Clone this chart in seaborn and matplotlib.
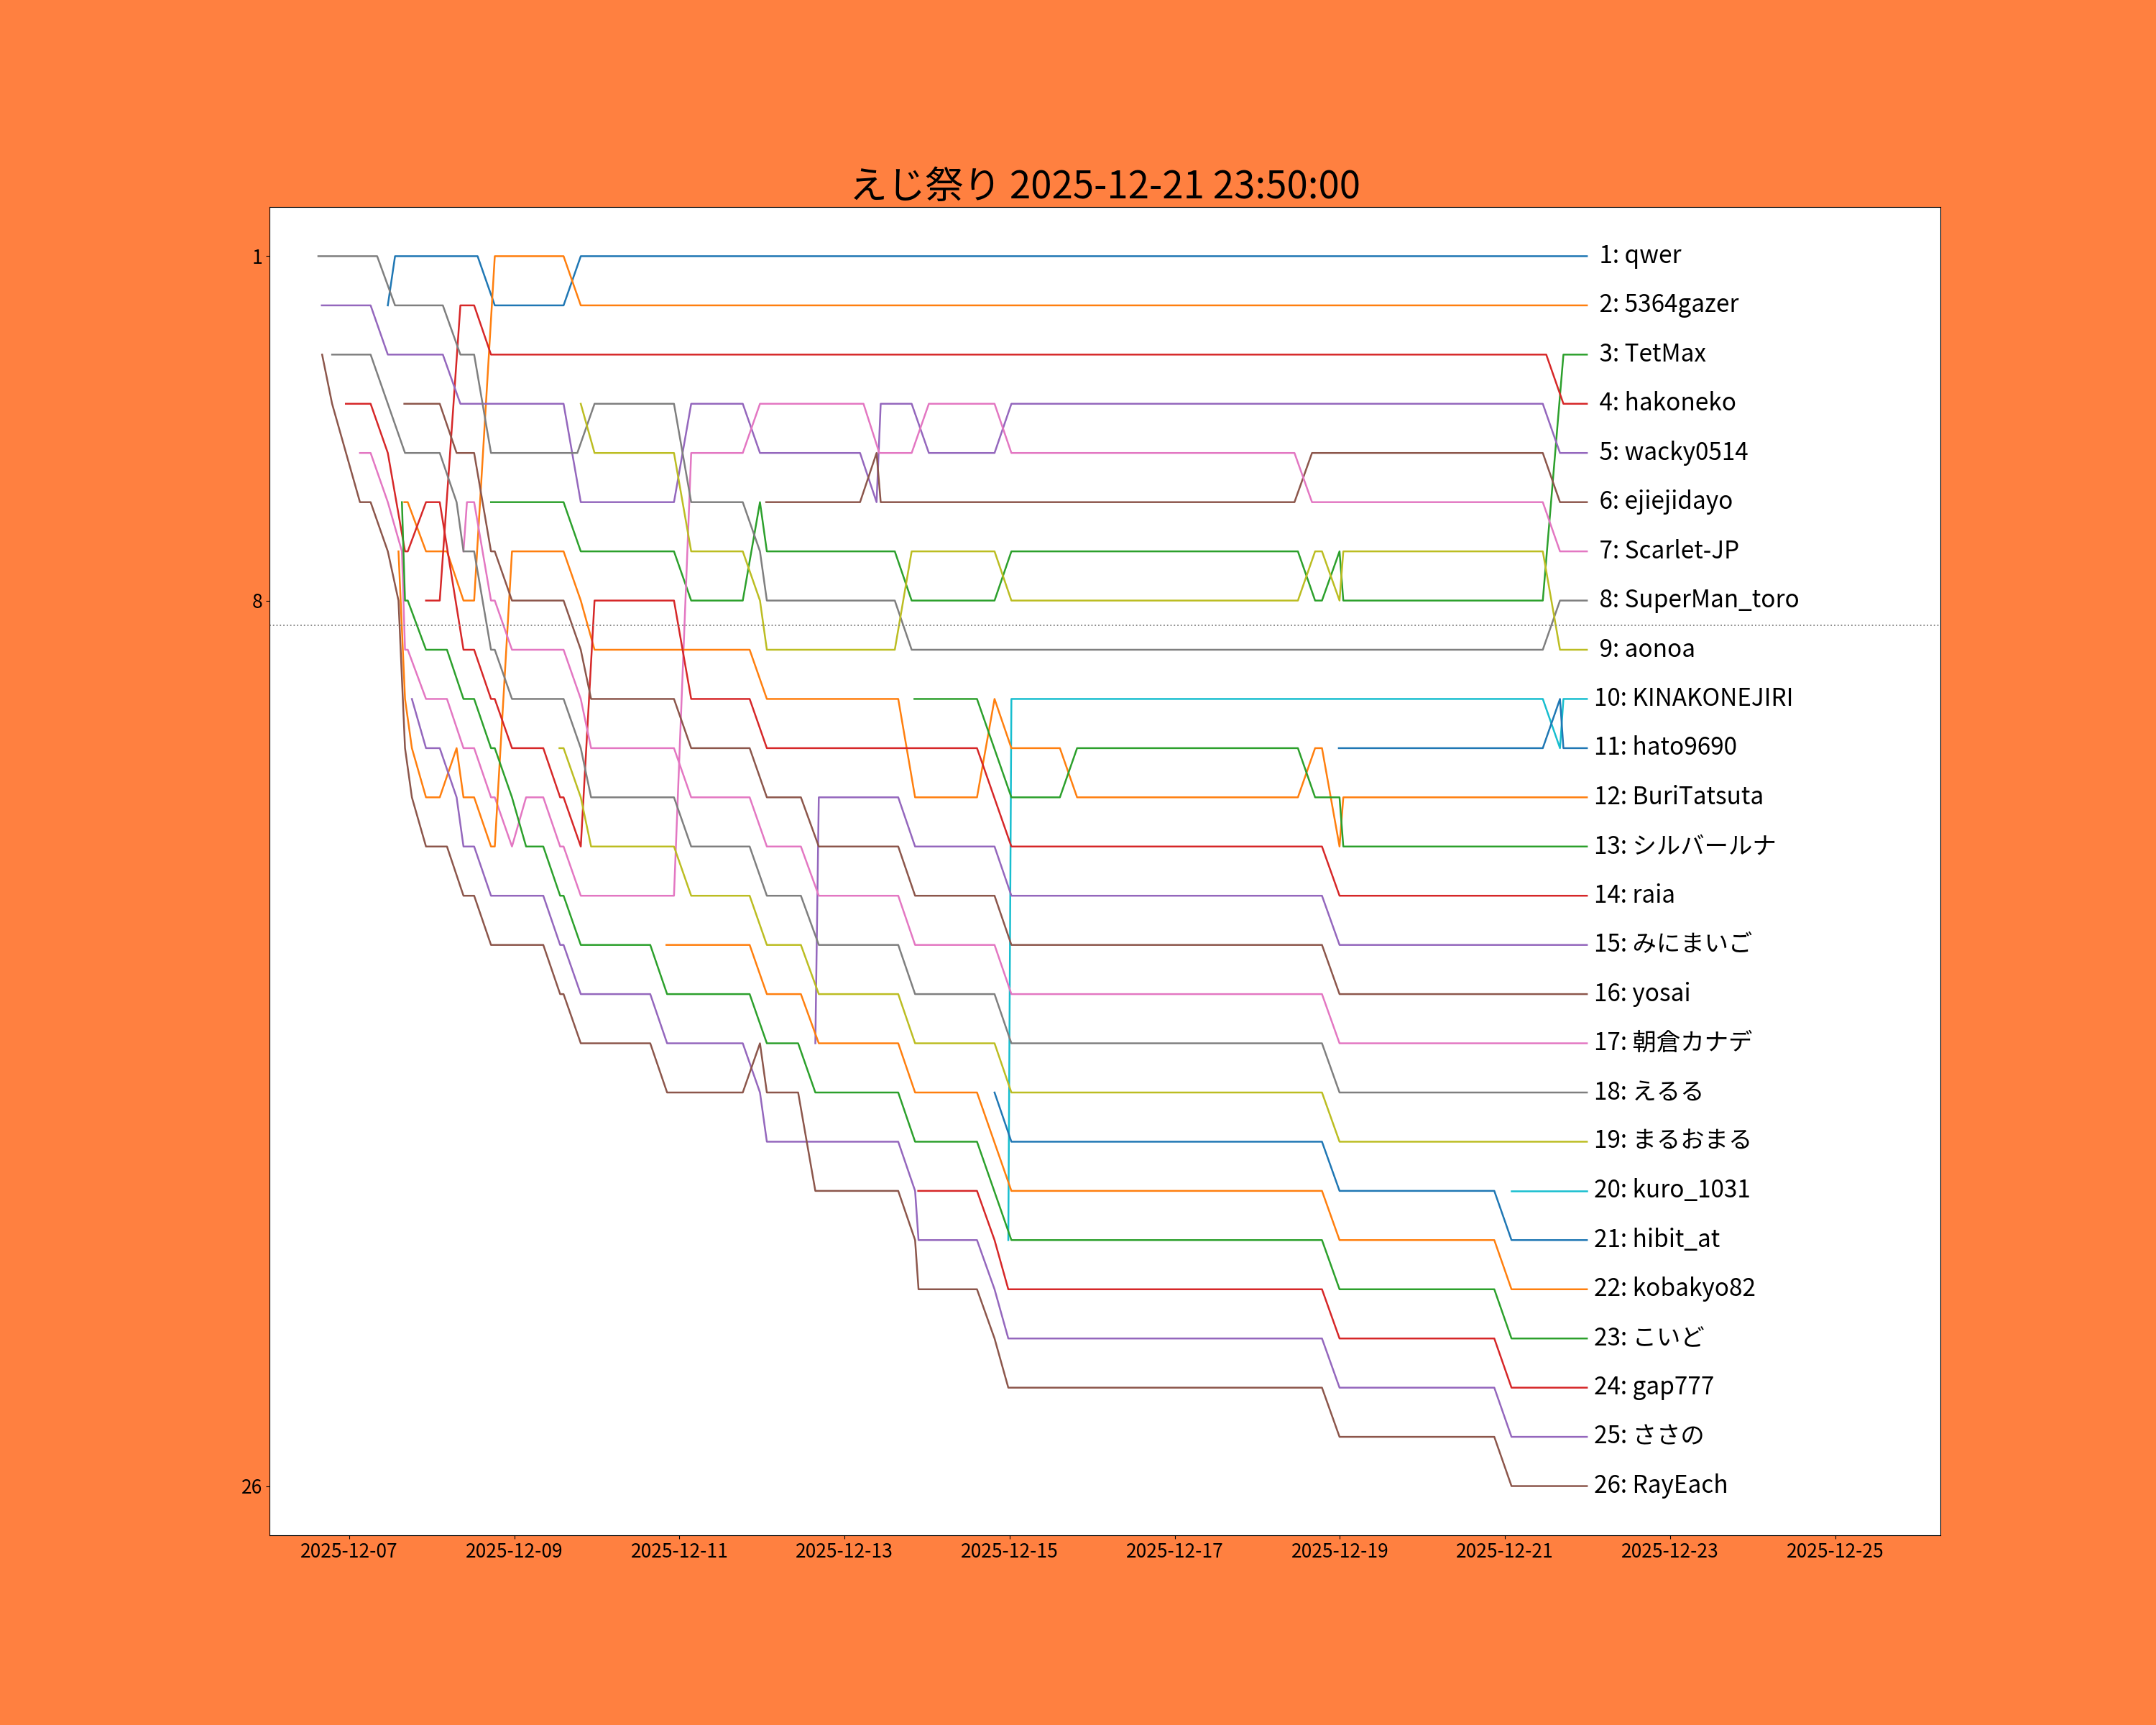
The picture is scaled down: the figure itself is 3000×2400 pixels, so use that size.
import numpy as np
import pandas as pd
import matplotlib
matplotlib.use("Agg")
import matplotlib.pyplot as plt
import matplotlib.dates as mdates
import seaborn as sns

# ---------------- data (hours since 2025-12-07 00:00, rank) ----------------
START = pd.Timestamp("2025-12-07 00:00")
END_H = 359.83  # 2025-12-21 23:50

names = ["qwer", "5364gazer", "TetMax", "hakoneko", "wacky0514", "ejiejidayo",
         "Scarlet-JP", "SuperMan_toro", "aonoa", "KINAKONEJIRI", "hato9690",
         "BuriTatsuta", "シルバールナ", "raia", "みにまいご", "yosai", "朝倉カナデ",
         "えるる", "まるおまる", "kuro_1031", "hibit_at", "kobakyo82", "こいど",
         "gap777", "ささの", "RayEach"]

p01 = [(11.2, 2), (13.3, 1), (37.3, 1), (42.3, 2), (62.3, 2), (67.3, 1), (END_H, 1)]
p02 = [(16.0, 6), (17.0, 6), (22.3, 7), (28.4, 7), (33.2, 8), (36.3, 8), (42.3, 1),
       (62.3, 1), (67.3, 2), (END_H, 2)]
p03 = [(41.2, 6), (62.3, 6), (67.3, 7), (94.4, 7), (99.4, 8), (114.4, 8), (119.4, 6),
       (121.4, 7), (158.6, 7), (163.5, 8), (187.6, 8), (192.5, 7), (275.8, 7),
       (280.8, 8), (282.8, 8), (287.9, 7), (289.0, 8), (347.0, 8), (353.0, 3), (END_H, 3)]
p04 = [(22.3, 8), (26.3, 8), (32.3, 2), (36.3, 2), (41.2, 3), (348.0, 3), (353.0, 4),
       (END_H, 4)]
p05 = [(-8.0, 2), (6.2, 2), (11.2, 3), (27.2, 3), (32.3, 4), (62.3, 4), (67.3, 6),
       (94.4, 6), (99.4, 4), (114.4, 4), (119.4, 5), (148.5, 5), (153.3, 6), (154.5, 4),
       (163.5, 4), (168.5, 5), (187.6, 5), (192.5, 4), (347.0, 4), (352.0, 5), (END_H, 5)]
p06 = [(121.2, 6), (148.5, 6), (153.3, 5), (154.5, 6), (274.8, 6), (279.9, 5),
       (347.0, 5), (352.0, 6), (END_H, 6)]
p07 = [(3.1, 5), (6.2, 5), (11.2, 6), (15.3, 7), (16.2, 9), (17.0, 9), (22.3, 10),
       (28.4, 10), (33.2, 11), (36.3, 11), (41.2, 12), (42.3, 12), (47.3, 13), (51.4, 12),
       (56.4, 12), (61.3, 13), (62.3, 13), (67.3, 14), (94.4, 14), (99.4, 5), (114.4, 5),
       (119.4, 4), (149.5, 4), (154.1, 5), (163.5, 5), (168.5, 4), (187.6, 4), (192.5, 5),
       (274.8, 5), (279.9, 6), (347.0, 6), (352.0, 7), (END_H, 7)]
p08 = [(-9.0, 1), (8.1, 1), (13.3, 2), (27.2, 2), (32.3, 3), (36.3, 3), (41.2, 5),
       (66.3, 5), (71.3, 4), (94.4, 4), (99.4, 6), (114.4, 6), (119.4, 7), (121.4, 8),
       (158.6, 8), (163.5, 9), (347.0, 9), (352.0, 8), (END_H, 8)]
p09 = [(67.3, 4), (71.3, 5), (94.4, 5), (99.4, 7), (114.4, 7), (119.4, 8), (121.4, 9),
       (158.6, 9), (163.5, 7), (187.6, 7), (192.5, 8), (275.8, 8), (280.8, 7), (282.8, 7),
       (287.9, 8), (289.0, 7), (347.0, 7), (352.0, 9), (END_H, 9)]
p10 = [(191.6, 21), (192.5, 10), (347.0, 10), (352.0, 11), (353.0, 10), (END_H, 10)]
p11 = [(287.7, 11), (347.0, 11), (352.0, 10), (353.0, 11), (END_H, 11)]
p12 = [(14.3, 7), (16.2, 10), (18.2, 11), (22.3, 12), (26.3, 12), (31.2, 11), (33.2, 12),
       (36.3, 12), (41.2, 13), (42.3, 13), (47.3, 7), (62.3, 7), (67.3, 8), (71.3, 9),
       (116.4, 9), (121.4, 10), (159.6, 10), (164.5, 12), (182.5, 12), (187.6, 10),
       (192.5, 11), (206.6, 11), (211.6, 12), (275.8, 12), (280.8, 11), (282.8, 11),
       (287.9, 13), (289.0, 12), (END_H, 12)]
p13 = [(164.3, 10), (182.5, 10), (192.5, 12), (206.6, 12), (211.6, 11), (275.8, 11),
       (280.8, 12), (287.9, 12), (289.0, 13), (END_H, 13)]
p14 = [(-1.0, 4), (6.2, 4), (11.2, 5), (16.2, 7), (17.0, 7), (22.3, 6), (26.3, 6),
       (33.2, 9), (36.3, 9), (41.2, 10), (42.3, 10), (47.3, 11), (56.4, 11), (61.3, 12),
       (62.3, 12), (67.3, 13), (71.3, 8), (94.4, 8), (99.4, 10), (116.4, 10), (121.4, 11),
       (182.5, 11), (192.5, 13), (282.8, 13), (287.9, 14), (END_H, 14)]
p15 = [(135.5, 17), (136.5, 12), (159.6, 12), (164.5, 13), (187.6, 13), (192.5, 14),
       (282.8, 14), (287.9, 15), (END_H, 15)]
p16 = [(16.0, 4), (26.3, 4), (31.2, 5), (36.3, 5), (41.2, 7), (42.3, 7), (47.3, 8),
       (62.3, 8), (67.3, 9), (70.3, 10), (94.4, 10), (99.4, 11), (116.4, 11), (121.4, 12),
       (131.3, 12), (136.5, 13), (159.6, 13), (164.5, 14), (187.6, 14), (192.5, 15),
       (282.8, 15), (287.9, 16), (END_H, 16)]
p17 = [(33.2, 7), (34.2, 6), (36.3, 6), (41.2, 8), (42.3, 8), (47.3, 9), (62.3, 9),
       (67.3, 10), (70.3, 11), (94.4, 11), (99.4, 12), (116.4, 12), (121.4, 13),
       (131.3, 13), (136.5, 14), (159.6, 14), (164.5, 15), (187.6, 15), (192.5, 16),
       (282.8, 16), (287.9, 17), (END_H, 17)]
p18 = [(-5.0, 3), (6.2, 3), (16.2, 5), (26.3, 5), (31.2, 6), (33.2, 7), (36.3, 7),
       (41.2, 9), (42.3, 9), (47.3, 10), (62.3, 10), (67.3, 11), (70.3, 12), (94.4, 12),
       (99.4, 13), (116.4, 13), (121.4, 14), (131.3, 14), (136.5, 15), (159.6, 15),
       (164.5, 16), (187.6, 16), (192.5, 17), (282.8, 17), (287.9, 18), (END_H, 18)]
p19 = [(61.1, 11), (62.3, 11), (67.3, 12), (70.3, 13), (94.4, 13), (99.4, 14),
       (116.4, 14), (121.4, 15), (131.3, 15), (136.5, 16), (159.6, 16), (164.5, 17),
       (187.6, 17), (192.5, 18), (282.8, 18), (287.9, 19), (END_H, 19)]
p20 = [(337.9, 20), (END_H, 20)]
p21 = [(187.6, 18), (192.5, 19), (282.8, 19), (287.9, 20), (332.9, 20), (337.9, 21),
       (END_H, 21)]
p22 = [(92.2, 15), (116.4, 15), (121.4, 16), (131.3, 16), (136.5, 17), (159.6, 17),
       (164.5, 18), (182.5, 18), (192.5, 20), (282.8, 20), (287.9, 21), (332.9, 21),
       (337.9, 22), (END_H, 22)]
p23 = [(15.3, 6), (16.2, 8), (17.0, 8), (22.3, 9), (28.4, 9), (33.2, 10), (36.3, 10),
       (41.2, 11), (42.3, 11), (47.3, 12), (51.4, 13), (56.4, 13), (61.3, 14), (62.3, 14),
       (67.3, 15), (87.5, 15), (92.4, 16), (116.4, 16), (121.4, 17), (130.5, 17),
       (135.5, 18), (159.6, 18), (164.5, 19), (182.5, 19), (192.5, 21), (282.8, 21),
       (287.9, 22), (332.9, 22), (337.9, 23), (END_H, 23)]
p24 = [(165.4, 20), (182.5, 20), (187.6, 21), (191.6, 22), (282.8, 22), (287.9, 23),
       (332.9, 23), (337.9, 24), (END_H, 24)]
p25 = [(18.2, 10), (22.3, 11), (26.3, 11), (31.2, 12), (33.2, 13), (36.3, 13),
       (41.2, 14), (56.4, 14), (61.3, 15), (62.3, 15), (67.3, 16), (87.5, 16), (92.4, 17),
       (114.4, 17), (119.4, 18), (121.4, 19), (159.6, 19), (164.5, 20), (165.5, 21),
       (182.5, 21), (187.6, 22), (191.6, 23), (282.8, 23), (287.9, 24), (332.9, 24),
       (337.9, 25), (END_H, 25)]
p26 = [(-7.9, 3), (-5.0, 4), (3.1, 6), (6.2, 6), (11.2, 7), (14.3, 8), (16.2, 11),
       (18.2, 12), (22.3, 13), (28.4, 13), (33.2, 14), (36.3, 14), (41.2, 15), (56.4, 15),
       (61.3, 16), (62.3, 16), (67.3, 17), (87.5, 17), (92.4, 18), (114.4, 18),
       (119.4, 17), (121.4, 18), (130.5, 18), (135.5, 20), (159.6, 20), (164.5, 21),
       (165.5, 22), (182.5, 22), (187.6, 23), (191.6, 24), (282.8, 24), (287.9, 25),
       (332.9, 25), (337.9, 26), (END_H, 26)]

series = [p01, p02, p03, p04, p05, p06, p07, p08, p09, p10, p11, p12, p13,
          p14, p15, p16, p17, p18, p19, p20, p21, p22, p23, p24, p25, p26]

title_text = "えじ祭り 2025-12-21 23:50:00"
rank_ticks = [1, 8, 26]
border_rank = 8.5

# ---------------- build long table ----------------
rows = []
for name, pts in zip(names, series):
    for h, r in pts:
        rows.append({"player": name, "time": START + pd.Timedelta(hours=h), "rank": r})
df = pd.DataFrame(rows)

# ---------------- style ----------------
plt.rcParams["font.family"] = ["Noto Sans CJK JP", "DejaVu Sans"]
plt.rcParams["axes.unicode_minus"] = False

tab = sns.color_palette("tab10")
palette = {n: tab[i % 10] for i, n in enumerate(names)}

fig, ax = plt.subplots(figsize=(30, 24), dpi=100)
fig.patch.set_facecolor("#FF8040")
ax.set_facecolor("white")

sns.lineplot(data=df, x="time", y="rank", hue="player", hue_order=names,
             palette=palette, sort=False, estimator=None, legend=False,
             linewidth=1.8, ax=ax)

ax.axhline(border_rank, color="gray", linestyle=":", linewidth=1.3)

for i, (name, pts) in enumerate(zip(names, series)):
    h, r = pts[-1]
    ax.annotate(f"{i + 1:2d}: {name}", xy=(START + pd.Timedelta(hours=h), r),
                xytext=(7, 0), textcoords="offset points",
                va="center", ha="left", fontsize=24)

ax.set_ylim(27, 0)
ax.set_yticks(rank_ticks)
ax.set_xlim(START + pd.Timedelta(hours=-23.2), START + pd.Timedelta(hours=462.6))
ax.xaxis.set_major_locator(mdates.DayLocator(interval=2))
ax.xaxis.set_major_formatter(mdates.DateFormatter("%Y-%m-%d"))
ax.tick_params(axis="both", labelsize=19)
ax.set_xlabel("")
ax.set_ylabel("")
for s in ax.spines.values():
    s.set_color("black")
ax.set_title(title_text, fontsize=38)

fig.savefig("out.png", dpi=100, facecolor=fig.get_facecolor())
